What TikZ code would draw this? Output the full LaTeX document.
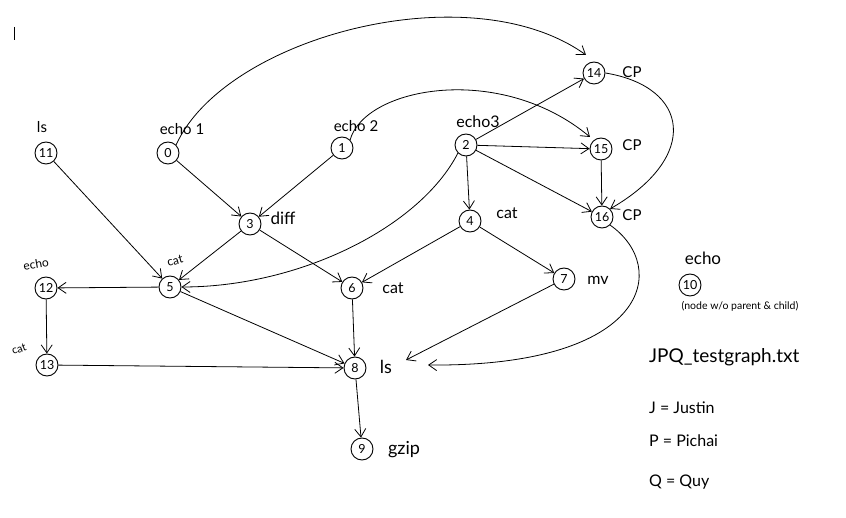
\documentclass[tikz,border=0pt]{standalone}
\usepackage{fontspec}
\setmainfont{Lato}
\usetikzlibrary{arrows.meta}
\begin{document}
\begin{tikzpicture}[x=1pt,y=1pt,
  vtx/.style={draw,circle,line width=0.9pt,minimum size=22pt,inner sep=0pt,font=\fontsize{12.5}{12.5}\selectfont},
  lbl/.style={font=\fontsize{15}{15}\selectfont,inner sep=1pt},
  note/.style={font=\fontsize{19}{19}\selectfont,inner sep=1pt,anchor=west},
  edge/.style={line width=0.8pt,-{Straight Barb[length=8pt,width=11pt,line width=0.8pt]}}]
\useasboundingbox (0,0) rectangle (846,517);
\draw[line width=0.9pt] (14,490) -- (14,477);

% vertices
\node[vtx] (n11) at (46,364) {11};
\node[vtx] (n0)  at (168,364) {0};
\node[vtx] (n1)  at (342,369) {1};
\node[vtx] (n2)  at (466,372) {2};
\node[vtx] (n14) at (594,444) {14};
\node[vtx] (n15) at (601,368) {15};
\node[vtx] (n16) at (602,300) {16};
\node[vtx] (n3)  at (250,293) {3};
\node[vtx] (n4)  at (470,296) {4};
\node[vtx] (n5)  at (170,230) {5};
\node[vtx] (n12) at (46,229) {12};
\node[vtx] (n6)  at (352,229) {6};
\node[vtx] (n7)  at (564,238) {7};
\node[vtx] (n13) at (47,152) {13};
\node[vtx] (n8)  at (355,149) {8};
\node[vtx] (n9)  at (362,68) {9};
\node[vtx] (n10) at (690,232) {10};

% command labels
\node[lbl] (l11) at (42,390) {ls};
\node[lbl] (l0)  at (182,388) {echo 1};
\node[lbl] (l1)  at (356,391) {echo 2};
\node[lbl,font=\fontsize{16}{16}\selectfont] (l2) at (478,395) {echo3};
\node[lbl] (l14) at (632,445) {CP};
\node[lbl] (l15) at (632,372) {CP};
\node[lbl] (l16) at (632,302) {CP};
\node[lbl,font=\fontsize{17}{17}\selectfont] (l3) at (283,299) {diff};
\node[lbl,font=\fontsize{16}{16}\selectfont] (l4) at (507,304) {cat};
\node[lbl,font=\fontsize{12}{12}\selectfont,rotate=15] (l5) at (175,256) {cat};
\node[lbl,font=\fontsize{12}{12}\selectfont,rotate=10] (l12) at (36,253) {echo};
\node[lbl,font=\fontsize{16}{16}\selectfont] (l6) at (393,229) {cat};
\node[lbl,font=\fontsize{16}{16}\selectfont] (l7) at (598,237) {mv};
\node[lbl,font=\fontsize{11}{11}\selectfont,rotate=20] (l13) at (19,168) {cat};
\node[lbl,font=\fontsize{18}{18}\selectfont] (l8) at (386,150) {ls};
\node[lbl,font=\fontsize{18}{18}\selectfont] (l9) at (404,67) {gzip};
\node[lbl,font=\fontsize{17}{17}\selectfont] (l10) at (703,259) {echo};
\node[lbl,font=\fontsize{10.5}{10.5}\selectfont] (l10b) at (740,211) {(node w/o parent \& child)};

% notes
\node[note] (file) at (648,160) {JPQ\_testgraph.txt};
\node[note,font=\fontsize{16}{16}\selectfont] (nj) at (648,109) {J = Justin};
\node[note,font=\fontsize{16}{16}\selectfont] (np) at (648,76) {P = Pichai};
\node[note,font=\fontsize{16}{16}\selectfont] (nq) at (648,35) {Q = Quy};

% connectors
\coordinate (t14) at (586,462);
\coordinate (t15) at (590,380);
\coordinate (t7to8) at (406,157);
\coordinate (t16to8) at (428,152);
\draw[edge] (n0.north east) .. controls (225,480) and (470,545) .. (t14);
\draw[edge] (n1.north east) .. controls (365,430) and (500,455) .. (t15);
\draw[edge] (n2) -- (n14);
\draw[edge] (n2) -- (n15);
\draw[edge] (n2) -- (n16);
\draw[edge] (n2) -- (n4);
\draw[edge] (n2.south west) .. controls (420,290) and (300,230) .. (n5.east);
\draw[edge] (n14.east) .. controls (690,430) and (700,360) .. (n16.north east);
\draw[edge] (n15) -- (n16);
\draw[edge] (n16.south east) .. controls (670,250) and (650,150) .. (t16to8);
\draw[edge] (n0) -- (n3);
\draw[edge] (n1) -- (n3);
\draw[edge] (n11) -- (n5);
\draw[edge] (n3) -- (n5);
\draw[edge] (n3) -- (n6);
\draw[edge] (n4) -- (n6);
\draw[edge] (n4) -- (n7);
\draw[edge] (n5) -- (n12);
\draw[edge] (n12) -- (n13);
\draw[edge] (n5) -- (n8);
\draw[edge] (n13) -- (n8);
\draw[edge] (n6) -- (n8);
\draw[edge] (n7) -- (t7to8);
\draw[edge] (n8) -- (n9);
\end{tikzpicture}
\end{document}
